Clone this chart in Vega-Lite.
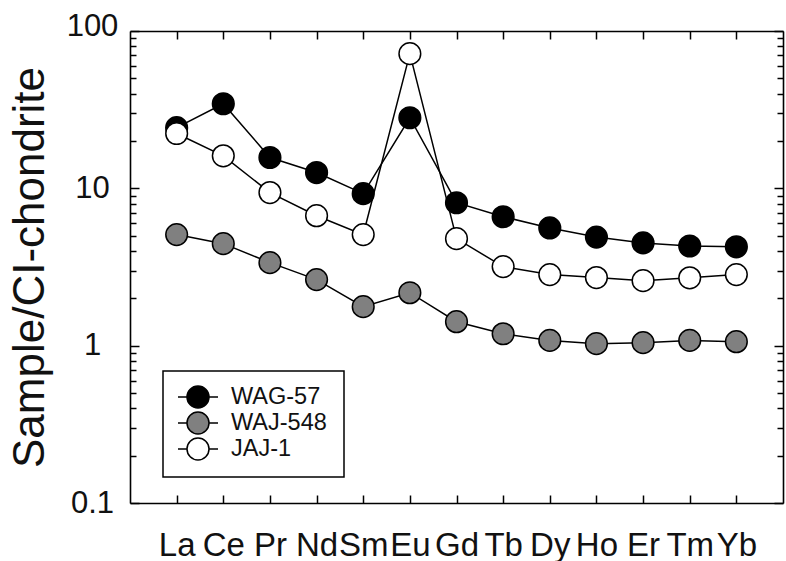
{
  "$schema": "https://vega.github.io/schema/vega-lite/v6.json",
  "width": 653,
  "height": 472,
  "autosize": {"type": "none"},
  "padding": {"left": 130, "top": 31, "right": 3, "bottom": 58},
  "background": "white",
  "config": {
    "font": "Liberation Sans",
    "view": {"stroke": null},
    "legend": {"strokeWidth": 1.5},
    "axis": {
      "domainColor": "black",
      "domainWidth": 1.6,
      "tickColor": "black",
      "tickWidth": 1.5,
      "labelColor": "#111111",
      "grid": false
    }
  },
  "datasets": {
    "ree": [
      {"sample": "WAJ-548", "element": "La", "value": 5.08},
      {"sample": "WAJ-548", "element": "Ce", "value": 4.45},
      {"sample": "WAJ-548", "element": "Pr", "value": 3.37},
      {"sample": "WAJ-548", "element": "Nd", "value": 2.63},
      {"sample": "WAJ-548", "element": "Sm", "value": 1.77},
      {"sample": "WAJ-548", "element": "Eu", "value": 2.17},
      {"sample": "WAJ-548", "element": "Gd", "value": 1.42},
      {"sample": "WAJ-548", "element": "Tb", "value": 1.19},
      {"sample": "WAJ-548", "element": "Dy", "value": 1.08},
      {"sample": "WAJ-548", "element": "Ho", "value": 1.03},
      {"sample": "WAJ-548", "element": "Er", "value": 1.045},
      {"sample": "WAJ-548", "element": "Tm", "value": 1.08},
      {"sample": "WAJ-548", "element": "Yb", "value": 1.06},
      {"sample": "WAG-57", "element": "La", "value": 24.3},
      {"sample": "WAG-57", "element": "Ce", "value": 34.5},
      {"sample": "WAG-57", "element": "Pr", "value": 15.7},
      {"sample": "WAG-57", "element": "Nd", "value": 12.6},
      {"sample": "WAG-57", "element": "Sm", "value": 9.25},
      {"sample": "WAG-57", "element": "Eu", "value": 28.1},
      {"sample": "WAG-57", "element": "Gd", "value": 8.1},
      {"sample": "WAG-57", "element": "Tb", "value": 6.6},
      {"sample": "WAG-57", "element": "Dy", "value": 5.6},
      {"sample": "WAG-57", "element": "Ho", "value": 4.9},
      {"sample": "WAG-57", "element": "Er", "value": 4.5},
      {"sample": "WAG-57", "element": "Tm", "value": 4.3},
      {"sample": "WAG-57", "element": "Yb", "value": 4.25},
      {"sample": "JAJ-1", "element": "La", "value": 22.3},
      {"sample": "JAJ-1", "element": "Ce", "value": 16.1},
      {"sample": "JAJ-1", "element": "Pr", "value": 9.4},
      {"sample": "JAJ-1", "element": "Nd", "value": 6.7},
      {"sample": "JAJ-1", "element": "Sm", "value": 5.08},
      {"sample": "JAJ-1", "element": "Eu", "value": 71.8},
      {"sample": "JAJ-1", "element": "Gd", "value": 4.79},
      {"sample": "JAJ-1", "element": "Tb", "value": 3.18},
      {"sample": "JAJ-1", "element": "Dy", "value": 2.83},
      {"sample": "JAJ-1", "element": "Ho", "value": 2.71},
      {"sample": "JAJ-1", "element": "Er", "value": 2.59},
      {"sample": "JAJ-1", "element": "Tm", "value": 2.7},
      {"sample": "JAJ-1", "element": "Yb", "value": 2.83}
    ]
  },
  "data": {"name": "ree"},
  "layer": [
    {
      "mark": {"type": "line", "color": "black", "strokeWidth": 1.5},
      "encoding": {
        "x": {
          "field": "element",
          "type": "nominal",
          "sort": ["La","Ce","Pr","Nd","Sm","Eu","Gd","Tb","Dy","Ho","Er","Tm","Yb"],
          "scale": {"type": "point", "padding": 1},
          "axis": {
            "orient": "bottom",
            "title": null,
            "labelAngle": 0,
            "labelFontSize": 33,
            "labelPadding": 34,
            "labelBaseline": "top",
            "tickSize": -8
          }
        },
        "y": {
          "field": "value",
          "type": "quantitative",
          "scale": {"type": "log", "domain": [0.1, 100], "nice": false},
          "axis": {
            "orient": "left",
            "title": "Sample/CI-chondrite",
            "titleFontSize": 44,
            "titleFontWeight": "normal",
            "titleColor": "#111111",
            "titleX": -100,
            "titleBaseline": "middle",
            "values": [0.1,0.2,0.3,0.4,0.5,0.6,0.7,0.8,0.9,1,2,3,4,5,6,7,8,9,10,20,30,40,50,60,70,80,90,100],
            "labelExpr": "indexof([0.1,1,10,100], datum.value) >= 0 ? format(datum.value, '~g') : ''",
            "labelOverlap": false,
            "labelFontSize": 31,
            "labelAlign": "center",
            "labelPadding": 47,
            "labelOffset": {"condition": {"test": "datum.value == 100", "value": -5}, "value": 0},
            "tickSize": {"condition": {"test": "indexof([0.1,1,10,100], datum.value) >= 0", "value": -9}, "value": -6}
          }
        },
        "detail": {"field": "sample"}
      }
    },
    {
      "mark": {"type": "circle", "stroke": "black", "strokeWidth": 1.5, "opacity": 1, "size": 470},
      "encoding": {
        "x": {
          "field": "element",
          "type": "nominal",
          "sort": ["La","Ce","Pr","Nd","Sm","Eu","Gd","Tb","Dy","Ho","Er","Tm","Yb"],
          "scale": {"type": "point", "padding": 1},
          "axis": {"orient": "top", "title": null, "labels": false, "tickSize": -8}
        },
        "y": {
          "field": "value",
          "type": "quantitative",
          "scale": {"type": "log", "domain": [0.1, 100], "nice": false},
          "axis": {
            "orient": "right",
            "title": null,
            "labels": false,
            "values": [0.1,0.2,0.3,0.4,0.5,0.6,0.7,0.8,0.9,1,2,3,4,5,6,7,8,9,10,20,30,40,50,60,70,80,90,100],
            "tickSize": {"condition": {"test": "indexof([0.1,1,10,100], datum.value) >= 0", "value": -9}, "value": -6}
          }
        },
        "fill": {
          "field": "sample",
          "type": "nominal",
          "scale": {"domain": ["WAG-57", "WAJ-548", "JAJ-1"], "range": ["#000000", "#808080", "#ffffff"]},
          "legend": {
            "orient": "none",
            "legendX": 33,
            "legendY": 340,
            "title": "\u00a0\u00a0\u00a0\u00a0",
            "titleOrient": "right",
            "titleFontSize": 24,
            "titlePadding": 3,
            "strokeColor": "black",
            "fillColor": "white",
            "padding": 14,
            "symbolType": "M -1.82 0 L -1 0 M 1 0 L 1.82 0 M 1 0 A 1 1 0 1 1 -1 0 A 1 1 0 1 1 1 0 Z",
            "symbolSize": 484,
            "symbolStrokeColor": "black",
            "symbolStrokeWidth": 1.5,
            "symbolOpacity": 1,
            "symbolOffset": 9,
            "labelOffset": 21,
            "labelFontSize": 23.5,
            "labelColor": "#111111",
            "rowPadding": -3
          }
        }
      }
    }
  ],
  "resolve": {"axis": {"x": "independent", "y": "independent"}}
}
